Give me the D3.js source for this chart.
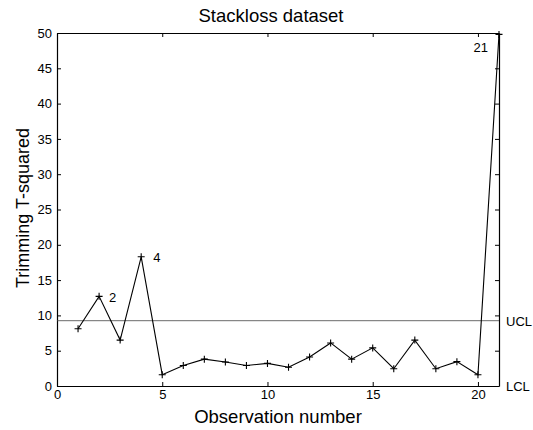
<!DOCTYPE html>
<html lang="en">
  <head>
    <meta charset="UTF-8" />
    <title>Stackloss dataset</title>
    <script src="https://d3js.org/d3.v7.min.js"></script>
    <style>
      body {
        margin: 0;
        background: #fff;
      }
      svg text {
        font-family: 'Liberation Sans', Arial, sans-serif;
        fill: #000;
      }
    </style>
  </head>
  <body>
    <div id="chart"></div>
    <script>
      // Trimming T-squared per observation
      const observations = d3.range(1, 22);
      const tsq = [
        8.1, 12.7, 6.5, 18.3, 1.6, 2.9, 3.8, 3.4, 2.9, 3.2, 2.65,
        4.1, 6.1, 3.8, 5.4, 2.45, 6.5, 2.45, 3.45, 1.6, 49.8,
      ];
      const ucl = 9.25;
      const lcl = 0;
      const xTicks = [0, 5, 10, 15, 20];
      const yTicks = [0, 5, 10, 15, 20, 25, 30, 35, 40, 45, 50];
      // observations that get a number beside them
      const flagged = [2, 4, 21];

      const svgWidth = 533;
      const svgHeight = 430;
      const margin = { top: 33, right: 34, bottom: 44, left: 57 };
      const width = svgWidth - margin.left - margin.right;
      const height = svgHeight - margin.top - margin.bottom;

      const svg = d3
        .select('#chart')
        .append('svg')
        .attr('width', svgWidth)
        .attr('height', svgHeight);

      const g = svg
        .append('g')
        .attr('transform', `translate(${margin.left},${margin.top})`);

      const x = d3.scaleLinear().domain([0, 21]).range([0, width]);
      const y = d3.scaleLinear().domain([0, 50]).range([height, 0]);

      // axes with inward ticks, box all round
      const axisStyle = (sel) => {
        sel.select('.domain').attr('stroke', '#000').attr('stroke-width', 1.2);
        sel.selectAll('.tick line').attr('stroke', '#000');
      };

      g.append('g')
        .attr('transform', `translate(0,${height})`)
        .call(
          d3.axisBottom(x).tickValues(xTicks).tickSize(-4).tickPadding(4).tickSizeOuter(0),
        )
        .call(axisStyle)
        .selectAll('text')
        .style('font-size', '13px');

      g.append('g')
        .call(
          d3.axisTop(x).tickValues(xTicks).tickSize(-4).tickFormat('').tickSizeOuter(0),
        )
        .call(axisStyle);

      g.append('g')
        .call(
          d3.axisLeft(y).tickValues(yTicks).tickSize(-4).tickPadding(5).tickSizeOuter(0),
        )
        .call(axisStyle)
        .selectAll('text')
        .style('font-size', '13px');

      g.append('g')
        .attr('transform', `translate(${width},0)`)
        .call(
          d3.axisRight(y).tickValues(yTicks).tickSize(-4).tickFormat('').tickSizeOuter(0),
        )
        .call(axisStyle);

      // upper control limit
      g.append('line')
        .attr('x1', 0)
        .attr('x2', width)
        .attr('y1', y(ucl))
        .attr('y2', y(ucl))
        .attr('stroke', '#444')
        .attr('stroke-width', 0.8);

      const line = d3
        .line()
        .x((d, i) => x(observations[i]))
        .y((d) => y(d));

      g.append('path')
        .datum(tsq)
        .attr('fill', 'none')
        .attr('stroke', '#000')
        .attr('stroke-width', 1.1)
        .attr('d', line);

      // plus markers
      g.selectAll('.mark')
        .data(tsq)
        .enter()
        .append('path')
        .attr('class', 'mark')
        .attr('transform', (d, i) => `translate(${x(observations[i])},${y(d)})`)
        .attr('d', 'M-3.5,0H3.5M0,-3.5V3.5')
        .attr('stroke', '#000')
        .attr('stroke-width', 1.1)
        .attr('fill', 'none');

      const flagOffset = { 2: [10, 6, 'start'], 4: [12, 5, 'start'], 21: [-11, 18, 'end'] };
      g.selectAll('.flag')
        .data(flagged)
        .enter()
        .append('text')
        .attr('class', 'flag')
        .attr('x', (d) => x(d) + flagOffset[d][0])
        .attr('y', (d) => y(tsq[d - 1]) + flagOffset[d][1])
        .attr('text-anchor', (d) => flagOffset[d][2])
        .style('font-size', '13px')
        .text((d) => d);

      g.append('text')
        .attr('x', width + 7)
        .attr('y', y(ucl) + 5)
        .style('font-size', '13px')
        .text('UCL');

      g.append('text')
        .attr('x', width + 7)
        .attr('y', y(lcl) + 5)
        .style('font-size', '13px')
        .text('LCL');

      svg
        .append('text')
        .attr('x', 271)
        .attr('y', 22)
        .attr('text-anchor', 'middle')
        .style('font-size', '18.5px')
        .text('Stackloss dataset');

      svg
        .append('text')
        .attr('x', 278)
        .attr('y', 423)
        .attr('text-anchor', 'middle')
        .style('font-size', '18.5px')
        .text('Observation number');

      svg
        .append('text')
        .attr('transform', 'translate(29,208) rotate(-90)')
        .attr('text-anchor', 'middle')
        .style('font-size', '18px')
        .text('Trimming T-squared');
    </script>
  </body>
</html>
